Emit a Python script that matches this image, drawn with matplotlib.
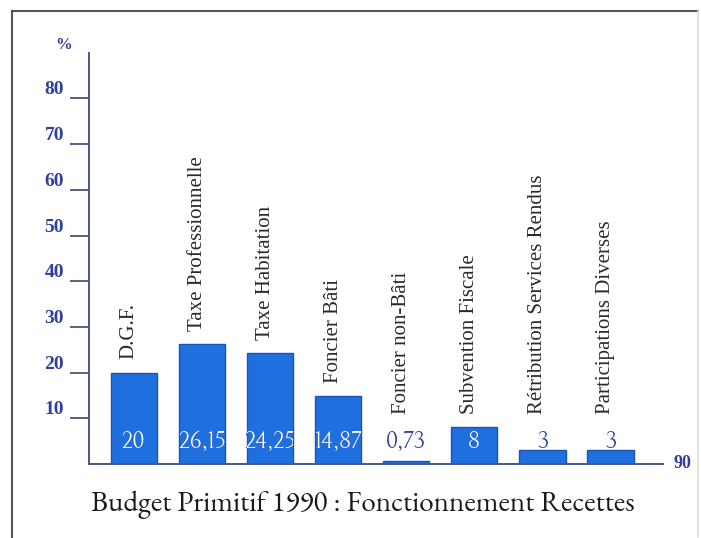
import matplotlib
matplotlib.use("Agg")
import matplotlib.pyplot as plt
from matplotlib.lines import Line2D

# === Données ===
postes = ["D.G.F.", "Taxe Professionnelle", "Taxe Habitation", "Foncier Bâti",
          "Foncier non-Bâti", "Subvention Fiscale", "Rétribution Services Rendus",
          "Participations Diverses"]
valeurs = [20, 26.15, 24.25, 14.87, 0.73, 8, 3, 3]
etiquettes = ["20", "26,15", "24,25", "14,87", "0,73", "8", "3", "3"]
graduations = [10, 20, 30, 40, 50, 60, 70, 80]

BLEU_BARRE = "#1f6fde"
BLEU_TEXTE = "#2f3f9c"
AXE = "#4a5684"
POLICE_ETROITE = ["Bellefair", "Liberation Serif", "DejaVu Serif"]
POLICE_TITRE = ["EB Garamond", "Liberation Serif", "DejaVu Serif"]

fig = plt.figure(figsize=(7.01, 5.38), dpi=100)
ax = fig.add_axes([89 / 701, 1 - 464 / 538, (663 - 89) / 701, (464 - 52.7) / 538])

x = list(range(len(valeurs)))
barres = ax.bar(x, valeurs, width=0.68, color=BLEU_BARRE, edgecolor="#1855b5", linewidth=1, zorder=2)

ax.set_xlim(-0.656, 7.77)
ax.set_ylim(0, 90)
ax.set_yticks(graduations)
ax.set_yticklabels([str(g) for g in graduations], fontfamily="Liberation Serif",
                   fontweight="bold", fontsize=14, color=BLEU_TEXTE)
for lbl in ax.get_yticklabels():
    lbl.set_verticalalignment("bottom")
ax.tick_params(axis="y", length=14, width=1.3, color=AXE, pad=4)
ax.set_xticks([])
for s in ("top", "right"):
    ax.spines[s].set_visible(False)
for s in ("left", "bottom"):
    ax.spines[s].set_color(AXE)
    ax.spines[s].set_linewidth(1.4)

# étiquettes des postes et valeurs
for i, (nom, v, txt, b) in enumerate(zip(postes, valeurs, etiquettes, barres)):
    ax.text(i - 0.07, max(v + 2.9, 11), nom, rotation=90, ha="center", va="bottom",
            fontfamily="Liberation Serif", fontsize=15, color="#2a2a2a")
    ax.text(i, 4.7, txt, ha="center", va="center", fontfamily=POLICE_ETROITE,
            fontsize=17, color=BLEU_TEXTE, zorder=3)
    t = ax.text(i, 4.7, txt, ha="center", va="center", fontfamily=POLICE_ETROITE,
                fontsize=17, color="white", zorder=4)
    t.set_clip_on(True)
    t.set_clip_path(b)

ax.annotate("%", xy=(0, 1), xycoords="axes fraction", xytext=(-25, 0),
            textcoords="offset pixels", ha="center", va="bottom",
            fontfamily="Liberation Serif", fontweight="bold", fontsize=12, color=BLEU_TEXTE)
ax.annotate("90", xy=(1, 0), xycoords="axes fraction", xytext=(10, 0),
            textcoords="offset pixels", ha="left", va="center",
            fontfamily="Liberation Serif", fontweight="bold", fontsize=13, color=BLEU_TEXTE)

fig.text(363 / 701, 1 - 505 / 538, "Budget Primitif 1990 : Fonctionnement Recettes",
         ha="center", va="center", fontfamily=POLICE_TITRE, fontsize=21, color="#1a1a1a")

# cadre
fig.add_artist(Line2D([12 / 701, 12 / 701], [1 - 537 / 538, 1 - 11 / 538], color="#555555", lw=1.5))
fig.add_artist(Line2D([12 / 701, 698 / 701], [1 - 11 / 538, 1 - 11 / 538], color="#555555", lw=1.5))
fig.add_artist(Line2D([698 / 701, 698 / 701], [1 - 537 / 538, 1 - 11 / 538], color="#dddddd", lw=1.2))

fig.savefig("out.png", dpi=100)
